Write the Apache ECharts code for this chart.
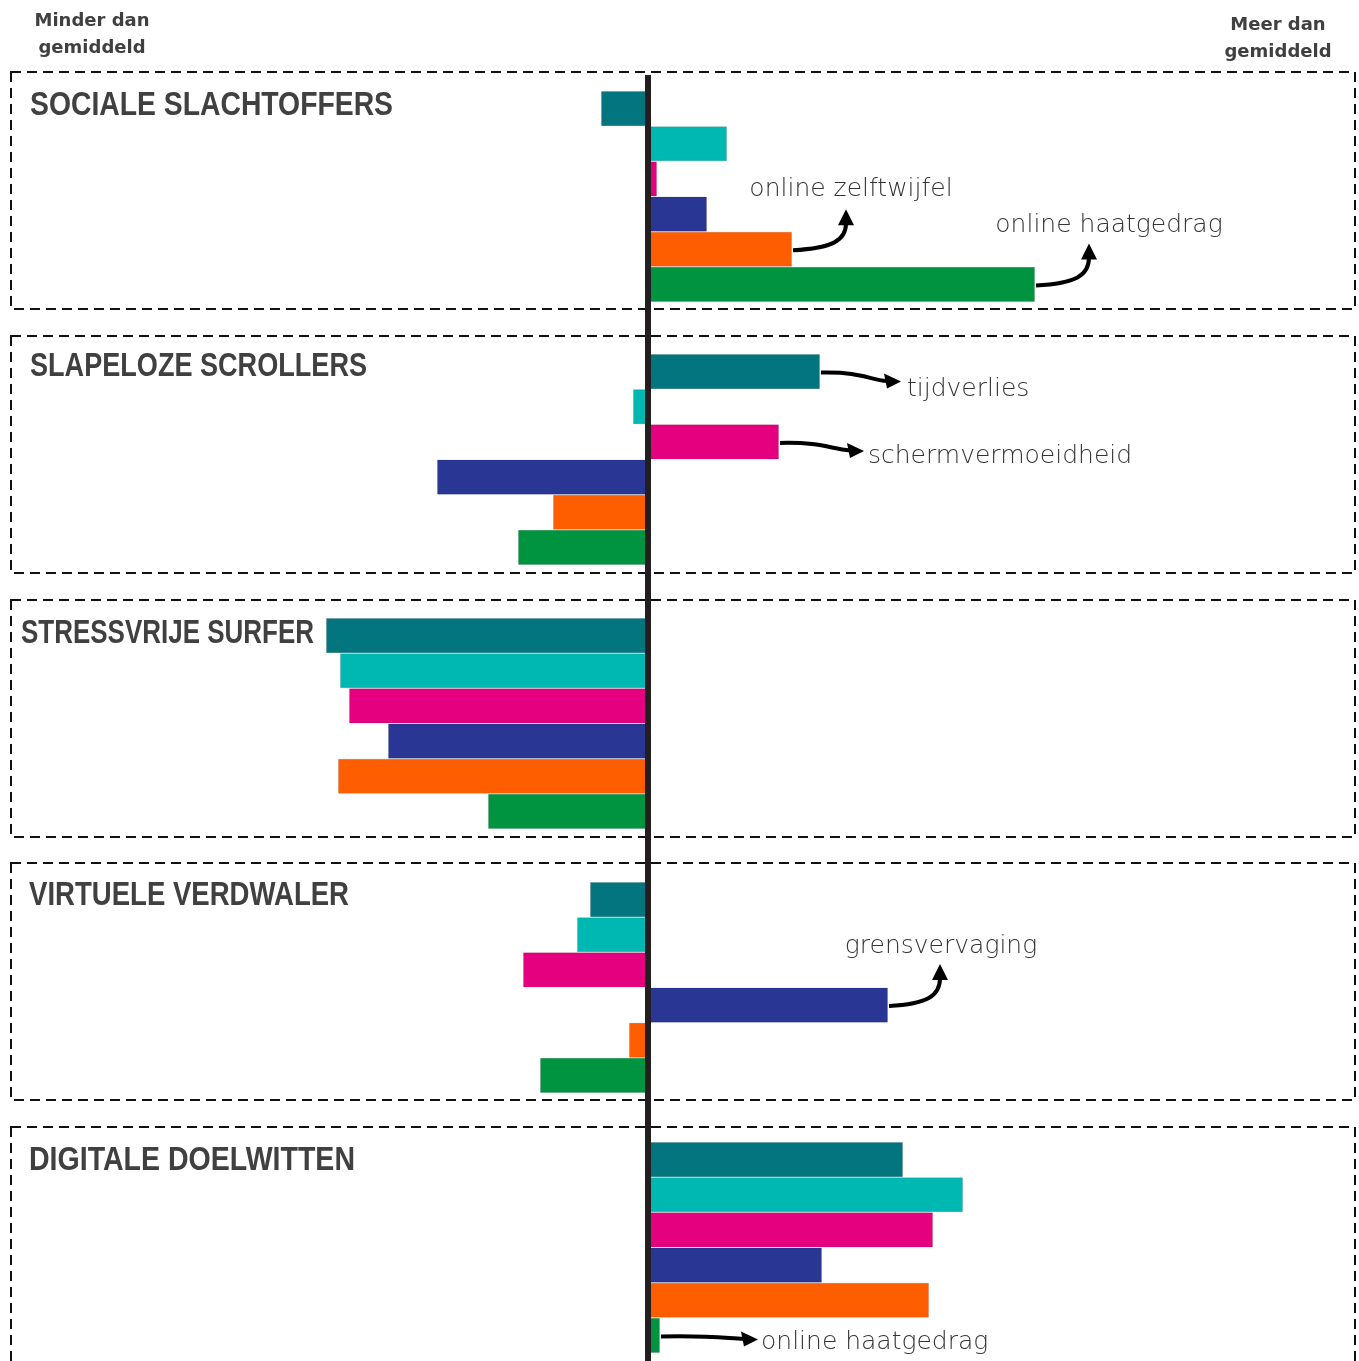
<!DOCTYPE html>
<html><head><meta charset="utf-8">
<script src="https://cdn.jsdelivr.net/npm/echarts@6/dist/echarts.min.js"></script>
<style>html,body{margin:0;padding:0;background:#fff}#c{width:1359px;height:1361px}</style>
</head><body><div id="c"></div>
<script>
// ---- data ----
const categories = ['tijdverlies', 'overig', 'schermvermoeidheid', 'grensvervaging', 'online zelftwijfel', 'online haatgedrag'];
const groupNames = ['SOCIALE SLACHTOFFERS', 'SLAPELOZE SCROLLERS', 'STRESSVRIJE SURFER', 'VIRTUELE VERDWALER', 'DIGITALE DOELWITTEN'];
const socialeSlachtoffers = [-0.47, 0.79, 0.09, 0.59, 1.44, 3.87];
const slapelozeScrollers = [1.72, -0.15, 1.31, -2.11, -0.95, -1.30];
const stressvrijeSurfer = [-3.22, -3.08, -2.99, -2.60, -3.10, -1.60];
const virtueleVerdwaler = [-0.58, -0.71, -1.25, 2.40, -0.19, -1.08];
const digitaleDoelwitten = [2.55, 3.15, 2.85, 1.74, 2.81, 0.12];
const leftLabel = 'Minder dan\ngemiddeld';
const rightLabel = 'Meer dan\ngemiddeld';
const annotations = [
  {group: 0, item: 4, text: 'online zelftwijfel', kind: 'up'},
  {group: 0, item: 5, text: 'online haatgedrag', kind: 'up'},
  {group: 1, item: 0, text: 'tijdverlies', kind: 'right'},
  {group: 1, item: 2, text: 'schermvermoeidheid', kind: 'right'},
  {group: 3, item: 3, text: 'grensvervaging', kind: 'up'},
  {group: 4, item: 5, text: 'online haatgedrag', kind: 'right'}
];
const groupValues = [socialeSlachtoffers, slapelozeScrollers, stressvrijeSurfer, virtueleVerdwaler, digitaleDoelwitten];

// ---- styles / layout ----
const colors = ['#03757F', '#00B8B2', '#E4007E', '#293694', '#FF5E00', '#009440'];
const groupTops = [91, 354, 618, 882, 1142];
const groupHeight = 211;
const boxTops = [72, 336, 600, 863, 1127];
const boxHeight = 237;
const titleLayout = [
  {x: 30, y: 106, w: 363}, {x: 30, y: 367, w: 337}, {x: 21, y: 634, w: 293},
  {x: 29, y: 896, w: 320}, {x: 29, y: 1161, w: 326}
];
const annLayout = [
  {tdx: 53, tdy: -41, lx: 5, ly: -20},
  {tdx: 53, tdy: -42, lx: 20, ly: -18},
  {tdx: 80, tdy: 9, lx: 6, ly: 8},
  {tdx: 84, tdy: 8, lx: 4, ly: 6},
  {tdx: 51, tdy: -42, lx: 1, ly: -18},
  {tdx: 97, tdy: 3, lx: 3, ly: 3}
];
const XMIN = -6.48, XMAX = 7.11;
const textColor = '#404040';
const titleFont = 'bold 33px "Liberation Sans", Arial, sans-serif';
const annFont = '200 25px "DejaVu Sans", sans-serif';
const headFont = 'bold 18px "DejaVu Sans", sans-serif';

const measureCtx = document.createElement('canvas').getContext('2d');
function textWidth(t, font) { measureCtx.font = font; return measureCtx.measureText(t).width; }

const chart = echarts.init(document.getElementById('c'), null, {renderer: 'canvas'});

const grids = [], xAxes = [], yAxes = [], series = [];
groupValues.forEach((vals, g) => {
  grids.push({left: 0, right: 0, top: groupTops[g], height: groupHeight});
  xAxes.push({type: 'value', gridIndex: g, min: XMIN, max: XMAX, show: false});
  yAxes.push({type: 'category', gridIndex: g, data: categories, inverse: true, show: false});
  series.push({
    type: 'bar', xAxisIndex: g, yAxisIndex: g, barCategoryGap: 0, barWidth: '100%',
    data: vals,
    itemStyle: {color: p => colors[p.dataIndex], borderColor: 'rgba(0,0,0,0.12)', borderWidth: 1},
    silent: true, animation: false
  });
});
// center line grid
grids.push({left: 0, right: 0, top: 75, bottom: 0});
xAxes.push({type: 'value', gridIndex: 5, min: XMIN, max: XMAX, show: false});
yAxes.push({type: 'value', gridIndex: 5, show: false, min: 0, max: 1});
series.push({
  type: 'line', xAxisIndex: 5, yAxisIndex: 5, data: [], animation: false, z: 10,
  markLine: {silent: true, symbol: 'none', label: {show: false},
    lineStyle: {color: '#231F20', width: 6, type: 'solid'}, data: [{xAxis: 0}]}
});

const graphics = [];
boxTops.forEach(t => {
  graphics.push({type: 'rect', shape: {x: 11, y: t, width: 1344, height: boxHeight},
    style: {fill: 'none', stroke: '#111', lineWidth: 2, lineDash: [10, 6]}, z: 1});
});
groupNames.forEach((n, g) => {
  const L = titleLayout[g];
  const sx = L.w / textWidth(n, titleFont);
  graphics.push({type: 'text', x: L.x, y: L.y, scaleX: sx, z: 20,
    style: {text: n, fill: textColor, font: titleFont, verticalAlign: 'middle', align: 'left'}});
});
graphics.push({type: 'text', x: 92, y: 35, style: {text: leftLabel, fill: textColor, font: headFont, align: 'center', verticalAlign: 'middle', lineHeight: 27}});
graphics.push({type: 'text', x: 1278, y: 39, style: {text: rightLabel, fill: textColor, font: headFont, align: 'center', verticalAlign: 'middle', lineHeight: 27}});

chart.setOption({
  animation: false,
  grid: grids, xAxis: xAxes, yAxis: yAxes, series: series, graphic: graphics
});

// annotation arrows computed from bar ends
const extra = [];
annotations.forEach((a, i) => {
  const v = groupValues[a.group][a.item];
  const p = chart.convertToPixel({gridIndex: a.group}, [v, a.item]);
  const L = annLayout[i];
  const S = [p[0] + 1, p[1] + 1];
  const T = [S[0] + L.tdx, S[1] + L.tdy];
  const stroke = {stroke: '#000', lineWidth: 4, fill: 'none'};
  const annText = {fill: '#333', font: annFont, verticalAlign: 'middle'};
  if (a.kind === 'up') {
    const base = [T[0], T[1] + 14];
    extra.push({type: 'bezierCurve', z: 30, shape: {x1: S[0], y1: S[1], cpx1: S[0] + L.tdx * 0.75, cpy1: S[1] - 2, cpx2: T[0], cpy2: S[1] - 10, x2: base[0], y2: base[1]}, style: stroke});
    extra.push({type: 'polygon', z: 30, shape: {points: [[T[0] - 8, T[1] + 16], [T[0] + 8, T[1] + 16], [T[0], T[1]]]}, style: {fill: '#000'}});
    extra.push({type: 'text', z: 30, x: T[0] + L.lx, y: T[1] + L.ly, style: Object.assign({text: a.text, align: 'center'}, annText)});
  } else {
    const base = [T[0] - 14, T[1] - 0.5];
    extra.push({type: 'bezierCurve', z: 30, shape: {x1: S[0], y1: S[1], cpx1: S[0] + L.tdx * 0.5, cpy1: S[1] - 1, cpx2: S[0] + L.tdx * 0.6, cpy2: T[1] - 2, x2: base[0], y2: base[1]}, style: stroke});
    extra.push({type: 'polygon', z: 30, shape: {points: [[T[0] - 17, T[1] - 8], [T[0] - 14, T[1] + 7], [T[0], T[1]]]}, style: {fill: '#000'}});
    extra.push({type: 'text', z: 30, x: T[0] + L.lx, y: T[1] + L.ly, style: Object.assign({text: a.text, align: 'left'}, annText)});
  }
});
chart.setOption({graphic: graphics.concat(extra)});
</script></body></html>
